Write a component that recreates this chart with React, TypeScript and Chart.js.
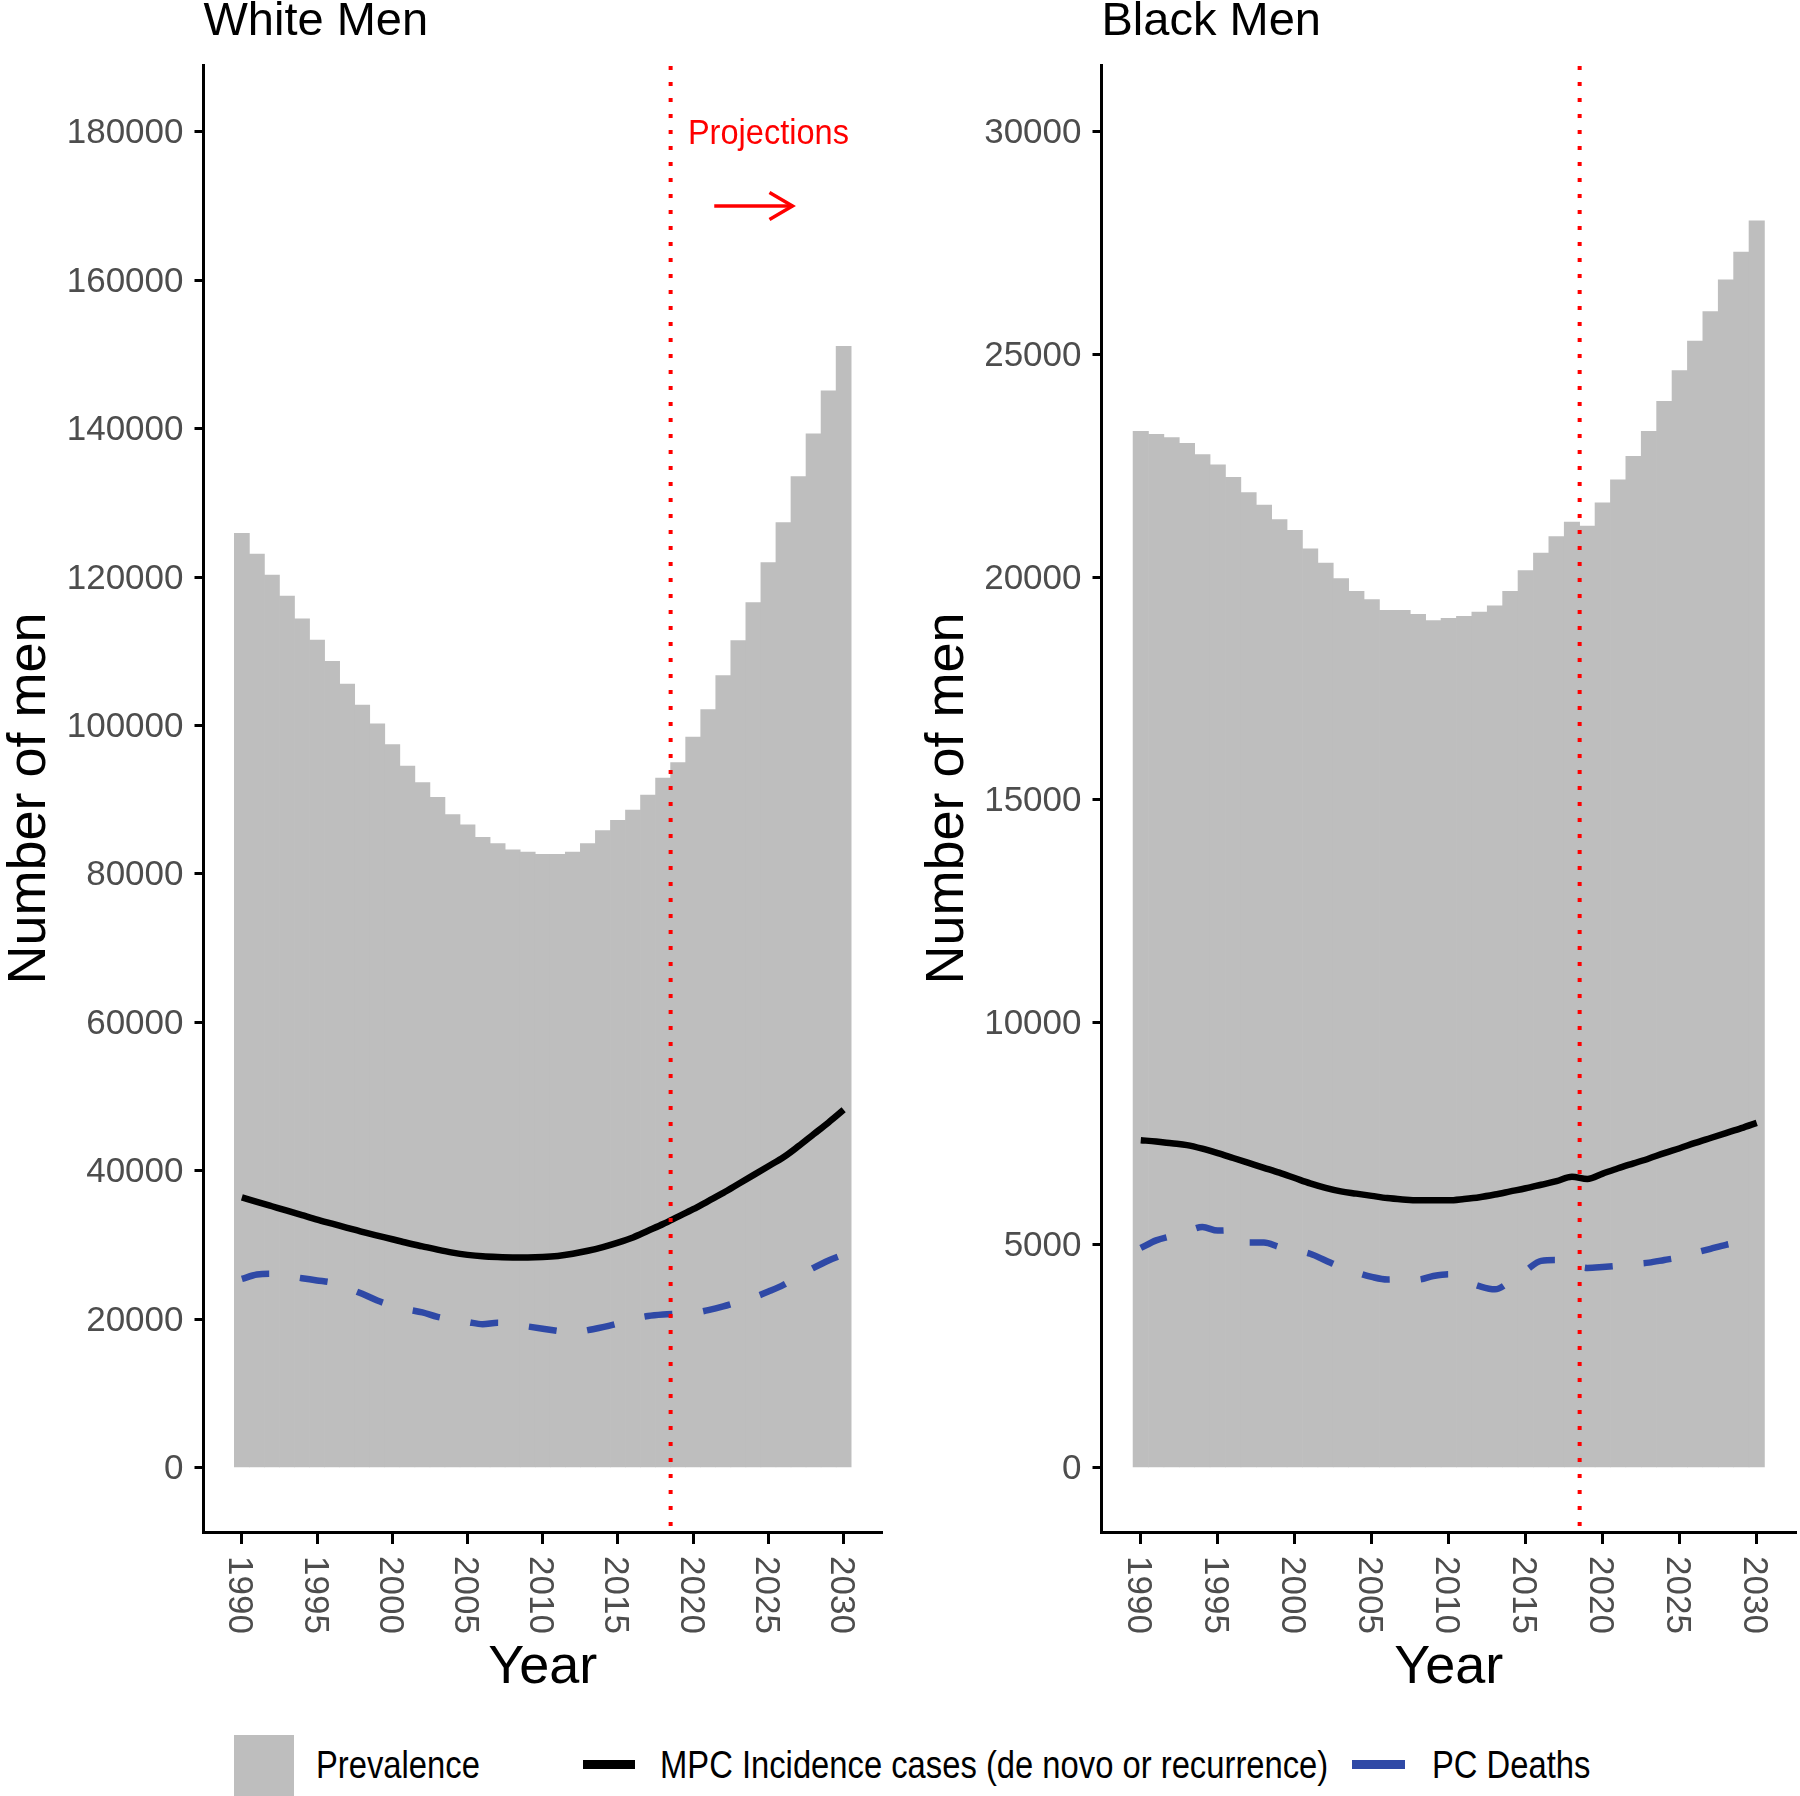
import React, { useEffect, useRef } from 'react';
import { Chart, registerables } from 'chart.js';

Chart.register(...registerables);

const FONT = '"Liberation Sans", Arial, Helvetica, sans-serif';

// ---------- data ----------
const years = [
  1990, 1991, 1992, 1993, 1994, 1995, 1996, 1997, 1998, 1999,
  2000, 2001, 2002, 2003, 2004, 2005, 2006, 2007, 2008, 2009,
  2010, 2011, 2012, 2013, 2014, 2015, 2016, 2017, 2018, 2019,
  2020, 2021, 2022, 2023, 2024, 2025, 2026, 2027, 2028, 2029, 2030,
];

const whitePrevalence = [
  125900, 123080, 120260, 117440, 114380, 111500, 108620, 105560, 102740, 100220,
  97400, 94520, 92300, 90320, 87980, 86600, 84920, 84080, 83240, 82940,
  82640, 82640, 82940, 84080, 85820, 87200, 88580, 90620, 92900, 95000,
  98420, 102140, 106700, 111440, 116540, 121940, 127340, 133520, 139280, 145100, 151100,
];
const whiteIncidence = [
  36400, 35800, 35200, 34600, 34000, 33400, 32850, 32300, 31750, 31250,
  30750, 30250, 29800, 29350, 28950, 28650, 28450, 28350, 28300, 28300,
  28350, 28500, 28800, 29200, 29700, 30300, 31000, 31900, 32800, 33800,
  34800, 35900, 37000, 38200, 39400, 40600, 41800, 43300, 44900, 46500, 48200,
];
const whiteDeaths = [
  25400, 26000, 26100, 25800, 25500, 25200, 24900, 24200, 23400, 22500,
  21800, 21300, 20900, 20300, 19900, 19600, 19300, 19500, 19300, 19000,
  18700, 18400, 18100, 18500, 18900, 19400, 20000, 20400, 20600, 20700,
  20800, 21200, 21700, 22300, 22900, 23700, 24600, 25800, 26900, 27900, 28700,
];

const blackPrevalence = [
  23274, 23202, 23132, 23002, 22750, 22521, 22240, 21899, 21618, 21288,
  21047, 20634, 20315, 19962, 19681, 19492, 19249, 19249, 19159, 19020,
  19070, 19119, 19211, 19350, 19681, 20144, 20535, 20906, 21236, 21146,
  21667, 22180, 22713, 23274, 23946, 24638, 25299, 25962, 26674, 27297, 28000,
];
const blackIncidence = [
  7350, 7320, 7280, 7240, 7160, 7060, 6950, 6840, 6730, 6620,
  6500, 6380, 6280, 6200, 6150, 6100, 6050, 6020, 6000, 6000,
  6000, 6030, 6070, 6130, 6200, 6270, 6350, 6430, 6530, 6480,
  6600, 6720, 6830, 6940, 7060, 7170, 7290, 7400, 7510, 7620, 7740,
];
const blackDeaths = [
  4930, 5100, 5200, 5300, 5400, 5320, 5330, 5050, 5050, 4950,
  4880, 4800, 4650, 4500, 4380, 4280, 4220, 4230, 4220, 4300,
  4340, 4200, 4070, 4000, 4180, 4420, 4640, 4660, 4560, 4480,
  4500, 4530, 4570, 4600, 4660, 4720, 4820, 4910, 5000, 5070, 5150,
];

const xTickYears = [1990, 1995, 2000, 2005, 2010, 2015, 2020, 2025, 2030];
const whiteYTicks = [0, 20000, 40000, 60000, 80000, 100000, 120000, 140000, 160000, 180000];
const blackYTicks = [0, 5000, 10000, 15000, 20000, 25000, 30000];

const projectionYear = 2018.5;
const projectionLabel = 'Projections';
const projectionLabelX = 2025;
const projectionLabelY = 180000;
const arrowStartX = 2021.4;
const arrowEndX = 2026.6;
const arrowY = 170000;

const legendLabels = ['Prevalence', 'MPC Incidence cases (de novo or recurrence)', 'PC Deaths'];

// ---------- styles ----------
const GREY = '#bebebe';
const BLUE = '#2f49a6';
const RED = '#ff0000';
const TICK_COLOR = '#4d4d4d';
const CANVAS_W = 900;
const CANVAS_H = 1720;
const AXIS_BOTTOM = 1532;

type PanelSpec = {
  title: string;
  prevalence: number[];
  incidence: number[];
  deaths: number[];
  yTicks: number[];
  yMin: number;
  yMax: number;
  axisLeft: number;
  padRight: number;
  yTitleX: number;
  annotate: boolean;
};

function buildChart(canvas: HTMLCanvasElement, spec: PanelSpec) {
  const decor = {
    id: 'decor',
    afterDatasetsDraw(chart: any) {
      const { ctx, chartArea, scales } = chart;
      const xs = scales.x;
      const ys = scales.y;
      const px = xs.getPixelForValue(projectionYear);
      ctx.save();
      ctx.strokeStyle = RED;
      ctx.lineWidth = 4;
      ctx.setLineDash([4, 12]);
      ctx.beginPath();
      ctx.moveTo(px, chartArea.top + 1);
      ctx.lineTo(px, chartArea.bottom);
      ctx.stroke();
      ctx.restore();

      if (spec.annotate) {
        ctx.save();
        ctx.fillStyle = RED;
        ctx.font = `35px ${FONT}`;
        ctx.textAlign = 'center';
        ctx.textBaseline = 'alphabetic';
        const tx = xs.getPixelForValue(projectionLabelX);
        const ty = ys.getPixelForValue(projectionLabelY) + 12;
        ctx.translate(tx, ty);
        ctx.scale(0.93, 1);
        ctx.fillText(projectionLabel, 0, 0);
        ctx.restore();

        const ax0 = xs.getPixelForValue(arrowStartX);
        const ax1 = xs.getPixelForValue(arrowEndX);
        const ay = ys.getPixelForValue(arrowY);
        ctx.save();
        ctx.strokeStyle = RED;
        ctx.lineWidth = 3.5;
        ctx.lineCap = 'butt';
        ctx.lineJoin = 'miter';
        ctx.beginPath();
        ctx.moveTo(ax0, ay);
        ctx.lineTo(ax1, ay);
        ctx.stroke();
        ctx.beginPath();
        ctx.moveTo(ax1 - 23, ay - 13.5);
        ctx.lineTo(ax1, ay);
        ctx.lineTo(ax1 - 23, ay + 13.5);
        ctx.stroke();
        ctx.restore();
      }
    },
    afterDraw(chart: any) {
      const { ctx, chartArea, scales } = chart;
      const xs = scales.x;
      ctx.save();
      ctx.fillStyle = '#000';
      ctx.font = `47px ${FONT}`;
      ctx.textAlign = 'left';
      ctx.textBaseline = 'alphabetic';
      ctx.fillText(spec.title, chartArea.left, 35);

      ctx.font = `54px ${FONT}`;
      ctx.textAlign = 'center';
      ctx.fillText('Year', (chartArea.left + chartArea.right) / 2, 1683);

      ctx.save();
      ctx.translate(spec.yTitleX, (chartArea.top + chartArea.bottom) / 2);
      ctx.rotate(-Math.PI / 2);
      ctx.textAlign = 'center';
      ctx.fillText('Number of men', 0, 0);
      ctx.restore();

      ctx.fillStyle = TICK_COLOR;
      ctx.font = `35px ${FONT}`;
      for (const v of xTickYears) {
        const px = xs.getPixelForValue(v);
        ctx.save();
        ctx.translate(px, AXIS_BOTTOM + 24);
        ctx.rotate(Math.PI / 2);
        ctx.textAlign = 'left';
        ctx.textBaseline = 'alphabetic';
        ctx.fillText(String(v), 0, 12.5);
        ctx.restore();
      }
      ctx.restore();
    },
  };

  const toXY = (arr: number[]) => arr.map((v, i) => ({ x: years[i], y: v }));

  return new Chart(canvas, {
    type: 'bar',
    data: {
      datasets: [
        {
          type: 'line',
          label: legendLabels[1],
          data: toXY(spec.incidence),
          borderColor: '#000000',
          borderWidth: 6.5,
          pointRadius: 0,
          cubicInterpolationMode: 'monotone',
          fill: false,
          order: 1,
        } as any,
        {
          type: 'line',
          label: legendLabels[2],
          data: toXY(spec.deaths),
          borderColor: BLUE,
          borderWidth: 6.5,
          borderDash: [28, 31],
          borderCapStyle: 'butt',
          pointRadius: 0,
          cubicInterpolationMode: 'monotone',
          fill: false,
          order: 2,
        } as any,
        {
          type: 'bar',
          label: legendLabels[0],
          data: toXY(spec.prevalence),
          backgroundColor: GREY,
          borderWidth: 0,
          barPercentage: 1,
          categoryPercentage: 1,
          order: 3,
        } as any,
      ],
    },
    options: {
      responsive: false,
      animation: false,
      layout: { padding: { top: 65, right: spec.padRight, left: 0, bottom: 0 } },
      plugins: {
        legend: { display: false },
        tooltip: { enabled: false },
      },
      scales: {
        x: {
          type: 'linear',
          min: 1987.45,
          max: 2032.55,
          offset: false,
          afterBuildTicks: (s: any) => {
            s.ticks = xTickYears.map((v) => ({ value: v }));
          },
          afterFit: (s: any) => {
            s.height = CANVAS_H - AXIS_BOTTOM;
          },
          ticks: { display: false },
          grid: {
            display: true,
            offset: false,
            drawOnChartArea: false,
            drawTicks: true,
            tickLength: 12,
            tickColor: '#000',
            tickWidth: 3,
          },
          border: { display: true, color: '#000', width: 3 },
        },
        y: {
          type: 'linear',
          min: spec.yMin,
          max: spec.yMax,
          afterBuildTicks: (s: any) => {
            s.ticks = spec.yTicks.map((v) => ({ value: v }));
          },
          afterFit: (s: any) => {
            s.width = spec.axisLeft;
          },
          ticks: {
            font: { family: FONT, size: 35 },
            color: TICK_COLOR,
            padding: 11,
            labelOffset: 2,
            callback: (v: any) => String(v),
          },
          grid: {
            display: true,
            drawOnChartArea: false,
            drawTicks: true,
            tickLength: 9,
            tickColor: '#000',
            tickWidth: 3,
          },
          border: { display: true, color: '#000', width: 3 },
        },
      },
    } as any,
    plugins: [decor],
  });
}

function Panel({ spec, left }: { spec: PanelSpec; left: number }) {
  const ref = useRef<HTMLCanvasElement | null>(null);
  useEffect(() => {
    if (!ref.current) return;
    const chart = buildChart(ref.current, spec);
    return () => chart.destroy();
  }, [spec]);
  return (
    <canvas
      ref={ref}
      width={CANVAS_W}
      height={CANVAS_H}
      style={{ position: 'absolute', left, top: 0, width: CANVAS_W, height: CANVAS_H, display: 'block' }}
    />
  );
}

const whiteSpec: PanelSpec = {
  title: 'White Men',
  prevalence: whitePrevalence,
  incidence: whiteIncidence,
  deaths: whiteDeaths,
  yTicks: whiteYTicks,
  yMin: -8700,
  yMax: 189000,
  axisLeft: 203.5,
  padRight: 18,
  yTitleX: 45,
  annotate: true,
};

const blackSpec: PanelSpec = {
  title: 'Black Men',
  prevalence: blackPrevalence,
  incidence: blackIncidence,
  deaths: blackDeaths,
  yTicks: blackYTicks,
  yMin: -1450,
  yMax: 31500,
  axisLeft: 201.5,
  padRight: 4,
  yTitleX: 63,
  annotate: false,
};

function LegendText({ text, left, baseline }: { text: string; left: number; baseline: number }) {
  const fs = 39;
  return (
    <div
      style={{
        position: 'absolute',
        left,
        top: baseline - 0.8465 * fs,
        fontFamily: FONT,
        fontSize: fs,
        lineHeight: `${fs}px`,
        color: '#000',
        whiteSpace: 'nowrap',
        transform: 'scaleX(0.84)',
        transformOrigin: 'left center',
      }}
    >
      {text}
    </div>
  );
}

export default function App() {
  return (
    <div
      style={{
        position: 'absolute',
        left: 0,
        top: 0,
        width: 1800,
        height: 1796,
        background: '#fff',
        overflow: 'hidden',
      }}
    >
      <Panel spec={whiteSpec} left={0} />
      <Panel spec={blackSpec} left={900} />
      <div style={{ position: 'absolute', left: 234, top: 1735, width: 60, height: 61, background: GREY }} />
      <LegendText text={legendLabels[0]} left={316} baseline={1778} />
      <div style={{ position: 'absolute', left: 583, top: 1760, width: 52, height: 9, background: '#000' }} />
      <LegendText text={legendLabels[1]} left={660} baseline={1778} />
      <div style={{ position: 'absolute', left: 1352, top: 1760, width: 53, height: 9, background: BLUE }} />
      <LegendText text={legendLabels[2]} left={1432} baseline={1778} />
    </div>
  );
}
